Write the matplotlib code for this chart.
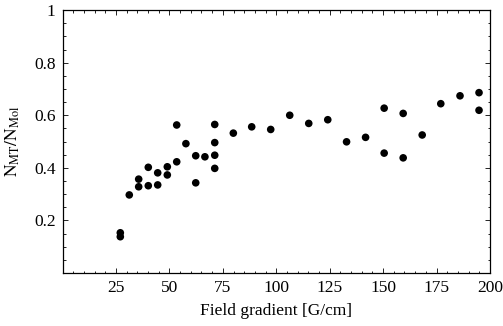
import numpy as np
import matplotlib
matplotlib.use('Agg')
import matplotlib.pyplot as plt
from matplotlib.ticker import MultipleLocator, FixedLocator

plt.rcParams['font.family'] = 'Liberation Serif'
plt.rcParams['mathtext.fontset'] = 'stix'

# field gradient [G/cm] and N_MT/N_Mol ratio
gradient = [27, 27, 31.2, 35.6, 35.6, 40.1, 40.1, 44.5, 44.5, 49, 49,
            53.4, 53.4, 57.7, 62.3, 62.3, 66.6, 71.2, 71.2, 71.2, 71.2,
            79.9, 88.5, 97.4, 106.3, 115.2, 124.1, 132.9, 141.8,
            150.5, 150.5, 159.4, 159.4, 168.3, 177, 186, 194.9, 194.9]
ratio = [0.153, 0.138, 0.297, 0.357, 0.328, 0.402, 0.332, 0.381, 0.335, 0.404, 0.373,
         0.423, 0.563, 0.492, 0.446, 0.343, 0.442, 0.565, 0.496, 0.448, 0.398,
         0.532, 0.556, 0.546, 0.600, 0.569, 0.583, 0.499, 0.516,
         0.627, 0.456, 0.607, 0.438, 0.525, 0.644, 0.674, 0.686, 0.619]

xticks = [25, 50, 75, 100, 125, 150, 175, 200]
yticks = [0.2, 0.4, 0.6, 0.8, 1.0]
ytick_labels = ['0.2', '0.4', '0.6', '0.8', '1']

fig = plt.figure(figsize=(5.03, 3.26), dpi=100)
ax = fig.add_axes([0.1245, 0.1626, 0.8495, 0.8064])

ax.scatter(gradient, ratio, s=30, color='black', edgecolors='none', zorder=3)

ax.set_xlim(0, 200)
ax.set_ylim(0, 1)
ax.xaxis.set_major_locator(FixedLocator(xticks))
ax.set_xticklabels([str(t) for t in xticks])
ax.yaxis.set_major_locator(FixedLocator(yticks))
ax.set_yticklabels(ytick_labels)
ax.xaxis.set_minor_locator(MultipleLocator(5))
ax.yaxis.set_minor_locator(MultipleLocator(0.05))

ax.tick_params(which='both', direction='in', top=True, right=True,
               width=0.6, labelsize=12.5, pad=5)
ax.tick_params(which='major', length=3.5)
ax.tick_params(which='minor', length=1.8)

for s in ax.spines.values():
    s.set_linewidth(0.9)

ax.set_xlabel('Field gradient [G/cm]', fontsize=12.5, labelpad=5)
ax.set_ylabel(r'$\mathrm{N_{MT}/N_{Mol}}$', fontsize=12.5, labelpad=9)

fig.savefig('out.png', dpi=100)
